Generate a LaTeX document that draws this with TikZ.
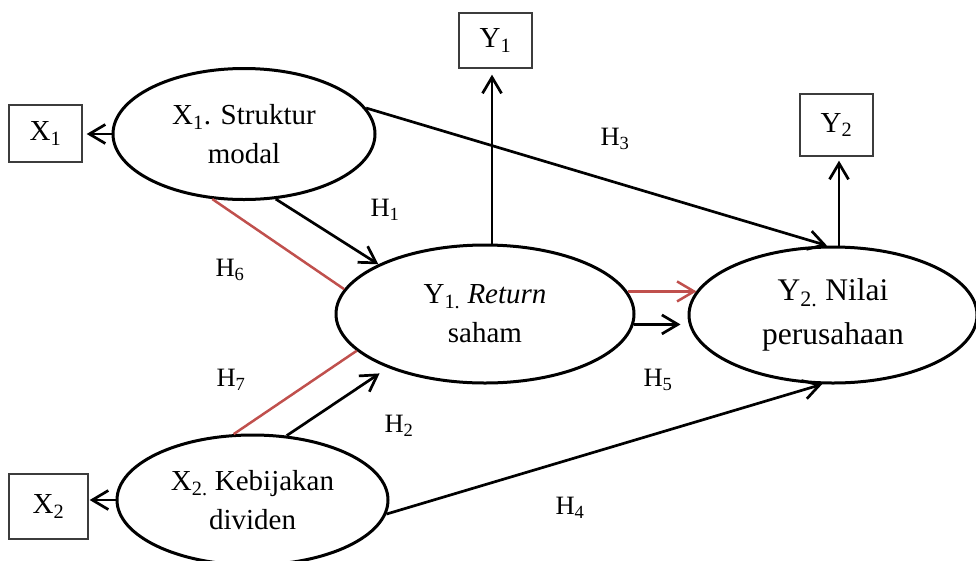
\documentclass[tikz,border=0pt]{standalone}
\usepackage{fontspec}
\setmainfont{Liberation Serif}
\usetikzlibrary{shapes.geometric,arrows.meta}
\definecolor{hred}{RGB}{192,80,77}
\definecolor{boxgray}{RGB}{60,60,60}
\newcommand\sbs[1]{\textsubscript{#1}}
\begin{document}
\begin{tikzpicture}[x=1pt,y=-1pt,
  ell/.style={draw, ellipse, line width=3pt, inner sep=0pt, align=center, font=\fontsize{29}{39}\selectfont},
  box/.style={draw=boxgray, line width=1.4pt, inner sep=0pt, font=\fontsize{29}{34}\selectfont},
  conn/.style={line width=2.7pt},
  arr/.style={conn, -{Straight Barb[length=16pt,width=19pt]}},
  redline/.style={line width=2.5pt, draw=hred},
  redarr/.style={redline, -{Straight Barb[length=17pt,width=20pt]}},
  hlab/.style={font=\fontsize{26.5}{30}\selectfont, inner sep=0pt}]
\useasboundingbox (0,0) rectangle (976,560);

% ellipses
\node[ell, minimum width=262pt, minimum height=131pt] (x1e) at (244,134) {X\sbs{1}. Struktur\\modal};
\node[ell, minimum width=298pt, minimum height=138pt] (y1e) at (485,314) {Y\sbs{1.} \textit{Return}\\saham};
\node[ell, minimum width=288pt, minimum height=136pt, font=\fontsize{31.5}{44}\selectfont] (y2e) at (833,315) {Y\sbs{2.} Nilai\\perusahaan};
\node[ell, minimum width=271pt, minimum height=130pt] (x2e) at (252.5,500) {X\sbs{2.} Kebijakan\\dividen};

% boxes
\node[box, minimum width=73pt, minimum height=57pt] (x1b) at (45.5,133.5) {X\sbs{1}};
\node[box, minimum width=73pt, minimum height=55pt] (y1b) at (495.5,40.5) {Y\sbs{1}};
\node[box, minimum width=73pt, minimum height=62pt] (y2b) at (836.5,125) {Y\sbs{2}};
\node[box, minimum width=79pt, minimum height=65pt] (x2b) at (48.5,506.5) {X\sbs{2}};

% indicator arrows
\draw[arr, shorten >=4pt] (x1e.west) -- (x1e.west -| x1b.east);
\draw[arr, shorten >=1pt] (x2e.west) -- (x2e.west -| x2b.east);
\coordinate (y1top) at ([xshift=7pt]y1e.north);
\draw[arr, shorten >=6pt] (y1top) -- (y1top |- y1b.south);
\coordinate (y2top) at ([xshift=6pt]y2e.north);
\draw[arr, shorten >=4pt] (y2top) -- (y2top |- y2b.south);

% paths
\draw[arr] (x1e.-64.8) -- (y1e.155.7);
\draw[redline] (x1e.244.8) -- (y1e.170.9);
\draw[arr] (x1e.12.8) -- (y2e.95);
\draw[redarr] (y1e.9.5) -- (y1e.9.5 -| y2e.170);
\draw[arr, shorten >=7pt] (y1e.-4.3) -- (y1e.-4.3 -| y2e.west);
\draw[arr, shorten >=10pt] (x2e.62.7) -- (y1e.209.8);
\draw[redline] (x2e.106) -- (y1e.196.2);
\draw[arr] (x2e.-6.4) -- (y2e.261);

% labels
\node[hlab] (h1) at (385,210) {H\sbs{1}};
\node[hlab] (h2) at (399,426) {H\sbs{2}};
\node[hlab] (h3) at (615,139) {H\sbs{3}};
\node[hlab] (h4) at (570,508) {H\sbs{4}};
\node[hlab] (h5) at (658,380) {H\sbs{5}};
\node[hlab] (h6) at (230,270) {H\sbs{6}};
\node[hlab] (h7) at (231,380) {H\sbs{7}};
\end{tikzpicture}
\end{document}
